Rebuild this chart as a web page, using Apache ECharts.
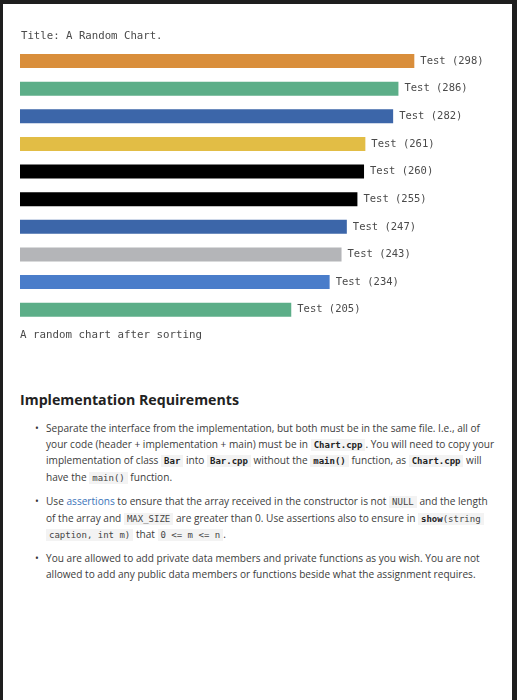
<!DOCTYPE html>
<html>
<head>
<meta charset="utf-8">
<script src="https://cdn.jsdelivr.net/npm/echarts@6/dist/echarts.min.js"></script>
<style>
  body { margin: 0; background: #1e1e1e; width: 517px; height: 700px; overflow: hidden; position: relative; }
  .page { position: absolute; left: 3px; top: 4px; width: 509px; height: 700px; background: #fff; }
  #chart { position: absolute; left: 0; top: 0; width: 517px; height: 360px; }
  .doc { position: absolute; left: 0; top: 0; width: 517px; font-family: "Open Sans", sans-serif; color: #3c3c3c; }
  .doc h3 { position: absolute; left: 20px; top: 389px; margin: 0; font-size: 14.2px; line-height: 22px; font-weight: 700; color: #222; white-space: nowrap; }
  .doc .item { position: absolute; left: 46px; font-size: 10.1px; line-height: 15.6px; white-space: nowrap; }
  .doc .item:before { content: "\2022"; position: absolute; left: -11px; top: 0; color: #333; }
  .doc a { color: #3b73b9; text-decoration: none; }
  .doc code { font-family: "DejaVu Sans Mono", monospace; font-size: 9px; background: #f3f3f3; padding: 1px 3px; color: #444; }
  .doc code b { color: #222; }
</style>
</head>
<body>
<div class="page"></div>
<div id="chart"></div>
<div class="doc">
  <h3>Implementation Requirements</h3>
  <div class="item" style="top:421px">Separate the interface from the implementation, but both must be in the same file. I.e., all of<br>your code (header + implementation + main) must be in <code><b>Chart.cpp</b></code>. You will need to copy your<br>implementation of class <code><b>Bar</b></code> into <code><b>Bar.cpp</b></code> without the <code><b>main()</b></code> function, as <code><b>Chart.cpp</b></code> will<br>have the <code>main()</code> function.</div>
  <div class="item" style="top:494px">Use <a>assertions</a> to ensure that the array received in the constructor is not <code>NULL</code> and the length<br>of the array and <code>MAX_SIZE</code> are greater than 0. Use assertions also to ensure in <code><b>show</b>(string</code><br><code>caption, int m)</code> that <code>0 &lt;= m &lt;= n</code>.</div>
  <div class="item" style="top:551px">You are allowed to add private data members and private functions as you wish. You are not<br>allowed to add any public data members or functions beside what the assignment requires.</div>
</div>
<script>
const titleText = 'Title: A Random Chart.';
const captionText = 'A random chart after sorting';
const categories = ['Test', 'Test', 'Test', 'Test', 'Test', 'Test', 'Test', 'Test', 'Test', 'Test'];
const values = [298, 286, 282, 261, 260, 255, 247, 243, 234, 205];
const barColors = ['#d98e3b', '#5cae88', '#3c66a9', '#e2bd45', '#000000', '#000000', '#3c66a9', '#b4b5b8', '#4a7dca', '#5cae88'];

const mono = '"DejaVu Sans Mono", monospace';
let myChart = echarts.init(document.getElementById('chart'));
myChart.setOption({
  animation: false,
  title: {
    text: titleText,
    left: 16,
    top: 26,
    textStyle: { fontFamily: mono, fontSize: 10.7, fontWeight: 'normal', color: '#4a4a4a' }
  },
  grid: { left: 20, top: 47.2, height: 276.3, width: 479 },
  xAxis: { type: 'value', min: 0, max: 362, show: false },
  yAxis: {
    type: 'category',
    data: categories,
    inverse: true,
    show: false
  },
  graphic: [{
    type: 'text',
    left: 20,
    top: 330,
    style: { text: captionText, font: '10.8px ' + mono, fill: '#4a4a4a' }
  }],
  series: [{
    type: 'bar',
    barWidth: 14,
    data: values.map((v, i) => ({ value: v, itemStyle: { color: barColors[i] } })),
    label: {
      show: true,
      position: 'right',
      distance: 6,
      fontFamily: mono,
      fontSize: 10.5,
      color: '#4a4a4a',
      formatter: p => categories[p.dataIndex] + ' (' + p.value + ')'
    }
  }]
});
</script>
</body>
</html>
